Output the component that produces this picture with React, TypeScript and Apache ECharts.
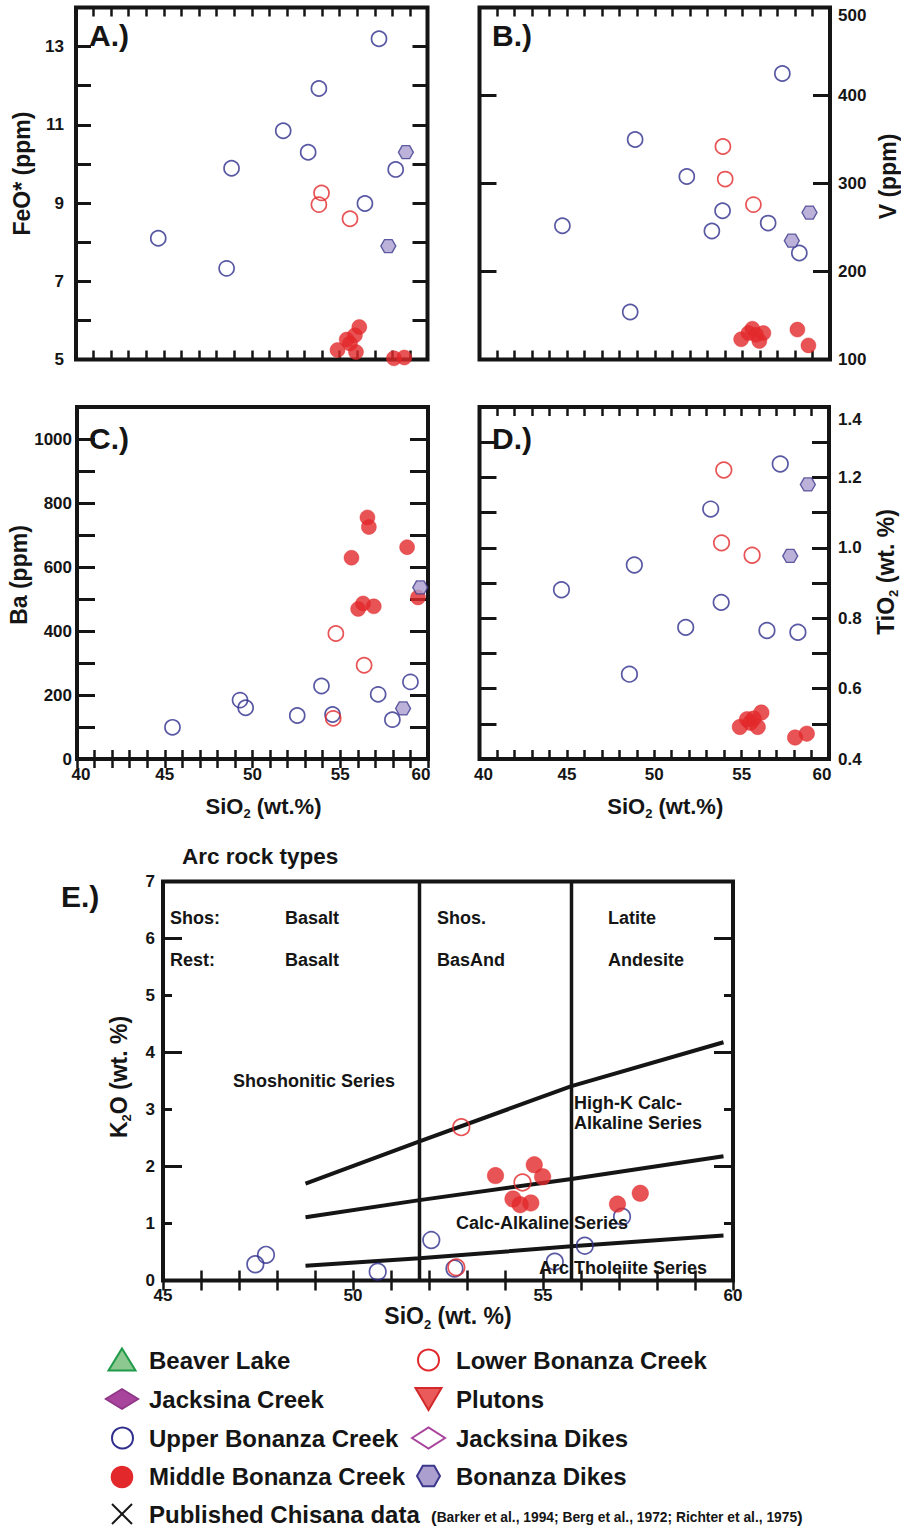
import React, { useEffect, useRef } from "react";
import * as echarts from "echarts";

// ---------------- data ----------------
// Panel A: FeO* vs SiO2
const feoUpper = [[44.68, 8.1], [48.57, 7.33], [48.85, 9.89], [51.79, 10.85], [53.21, 10.3], [53.82, 11.93], [56.44, 8.99], [57.24, 13.2], [58.19, 9.86]];
const feoLower = [[53.97, 9.26], [53.82, 8.96], [55.59, 8.6]];
const feoMiddle = [[54.88, 5.24], [55.4, 5.51], [55.59, 5.41], [55.87, 5.62], [56.12, 5.83], [55.93, 5.19], [58.09, 5.03], [58.68, 5.05]];
const feoDikes = [[58.77, 10.3], [57.77, 7.9]];

// Panel B: V vs SiO2
const vUpper = [[44.73, 252], [48.6, 154], [48.88, 350], [51.83, 308], [53.26, 246], [53.87, 269], [56.47, 255], [57.28, 425], [58.25, 221]];
const vLower = [[53.89, 342], [54.02, 305], [55.63, 276]];
const vMiddle = [[54.93, 123], [55.35, 130], [55.57, 135], [55.78, 128], [55.97, 121], [56.2, 130], [58.14, 134], [58.77, 116]];
const vDikes = [[57.82, 235], [58.83, 267]];

// Panel C: Ba vs SiO2
const baUpper = [[45.44, 99], [49.29, 184], [49.61, 160], [52.55, 136], [53.93, 228], [54.56, 139], [57.16, 202], [57.97, 123], [59.0, 241]];
const baLower = [[54.75, 392], [54.6, 127], [56.36, 293]];
const baMiddle = [[55.64, 629], [56.55, 755], [56.63, 725], [58.81, 662], [56.02, 469], [56.3, 486], [56.91, 477], [59.43, 505]];
const baDikes = [[58.58, 158], [59.56, 536]];

// Panel D: TiO2 vs SiO2
const tiUpper = [[44.69, 0.881], [48.58, 0.641], [48.86, 0.951], [51.8, 0.774], [53.23, 1.11], [53.83, 0.845], [56.45, 0.765], [57.21, 1.238], [58.22, 0.76]];
const tiLower = [[53.98, 1.221], [53.85, 1.014], [55.6, 0.979]];
const tiMiddle = [[54.9, 0.491], [55.31, 0.513], [55.5, 0.503], [55.69, 0.515], [55.92, 0.491], [56.13, 0.532], [58.06, 0.461], [58.73, 0.472]];
const tiDikes = [[57.78, 0.977], [58.79, 1.18]];

// Panel E: K2O vs SiO2
const kUpper = [[47.43, 0.285], [47.71, 0.45], [50.65, 0.155], [52.06, 0.71], [52.67, 0.21], [55.31, 0.33], [56.1, 0.61], [57.08, 1.12]];
const kLower = [[52.72, 0.23], [52.85, 2.69], [54.46, 1.72]];
const kMiddle = [[53.75, 1.84], [54.77, 2.03], [54.99, 1.82], [54.21, 1.43], [54.4, 1.33], [54.68, 1.36], [56.96, 1.34], [57.56, 1.53]];
const shoshoniteBoundary = [[48.75, 1.7], [51.75, 2.44], [55.75, 3.41], [59.75, 4.18]];
const highKBoundary = [[48.75, 1.11], [51.75, 1.41], [55.75, 1.78], [59.75, 2.18]];
const tholeiiteBoundary = [[48.75, 0.26], [51.75, 0.39], [55.75, 0.6], [59.75, 0.79]];
const rockTypeBoundaries = [51.75, 55.75];

// tick labels
const sio2Labels = [40, 45, 50, 55, 60];
const sio2LabelsE = [45, 50, 55, 60];
const feoLabels = [5, 7, 9, 11, 13];
const vLabels = [100, 200, 300, 400, 500];
const baLabels = [0, 200, 400, 600, 800, 1000];
const tiLabels = [0.4, 0.6, 0.8, 1.0, 1.2, 1.4];
const kLabels = [0, 1, 2, 3, 4, 5, 6, 7];

// texts
const panelLetters = ["A.)", "B.)", "C.)", "D.)", "E.)"];
const eTitle = "Arc rock types";
const eZoneTexts = ["Shos:", "Basalt", "Rest:", "Basalt", "Shos.", "BasAnd", "Latite", "Andesite"];
const eSeriesTexts = ["Shoshonitic Series", "High-K Calc-", "Alkaline Series", "Calc-Alkaline Series", "Arc Tholeiite Series"];
const legendLeft = ["Beaver Lake", "Jacksina Creek", "Upper Bonanza Creek", "Middle Bonanza Creek", "Published Chisana data"];
const legendRight = ["Lower Bonanza Creek", "Plutons", "Jacksina Dikes", "Bonanza Dikes"];
const citation = "Barker et al., 1994; Berg et al., 1972; Richter et al., 1975";

// ---------------- style ----------------
const FONT = "'Liberation Sans', Arial, Helvetica, sans-serif";
const INK = "#151515";
const NAVY = "#2f2e8c";
const RED = "#e2282b";
const HEX_FILL = "#ab9fcf";
const HEX_STROKE = "#3b388c";
const HEX_PATH = "path://M0,50 L25,2 L75,2 L100,50 L75,98 L25,98 Z";
const LABEL_SIZE = 17;

const tokenFont = (size: number, extra: any = {}) => ({ fontFamily: FONT, fontWeight: "bold", fontSize: size, color: INK, ...extra });

function labelFormatter(list: number[], digits = 0, special: Record<string, string> = {}) {
  return (v: number) => {
    const hit = list.find((t) => Math.abs(t - v) < 1e-6);
    if (hit === undefined) return "";
    const s = hit.toFixed(digits);
    return special[s] ? `{${special[s]}|${s}}` : s;
  };
}

const tickLine = (w: number) => ({ color: INK, width: w });
function axis(o: any) {
  return {
    type: "value",
    axisLine: { show: false },
    splitLine: { show: false },
    axisLabel: { show: false },
    ...o,
  };
}
const labelStyle = (margin: number, extra: any = {}) => ({
  show: true,
  margin,
  color: INK,
  fontFamily: FONT,
  fontWeight: "bold",
  fontSize: LABEL_SIZE,
  ...extra,
});

// names with a real subscript: main tokens top-aligned, subscript pushed down
const subName = (parts: string[]) => parts.map((p, i) => (i % 2 === 0 ? (p ? `{m|${p}}` : "") : `{s|${p}}`)).join("");
const nameStyle = (size: number, padLeft = 0) => ({
  color: INK,
  fontFamily: FONT,
  fontWeight: "bold",
  fontSize: size,
  padding: [0, 0, 0, padLeft],
  rich: {
    m: tokenFont(size, { lineHeight: size + 2, verticalAlign: "top" }),
    s: tokenFont(Math.round(size * 0.58), { lineHeight: 13, verticalAlign: "top", padding: [Math.round(size * 0.55), 0, 0, 0] }),
  },
});

function xPair(grid: number, min: number, max: number, tickLen: number, bottomExtra: any = {}) {
  const base = { gridIndex: grid, min, max, interval: 1 };
  const tick = { show: true, inside: true, length: tickLen, lineStyle: tickLine(2.5) };
  return [
    axis({ ...base, position: "bottom", axisTick: tick, ...bottomExtra }),
    axis({ ...base, position: "top", axisTick: tick }),
  ];
}

function scatterSet(xi: number, yi: number, upper: number[][], lower: number[][], middle: number[][], dikes: number[][] | null, size: number) {
  const common = { type: "scatter", xAxisIndex: xi, yAxisIndex: yi, clip: false, silent: true, z: 3 };
  const out: any[] = [
    { ...common, name: "Upper Bonanza Creek", data: upper, symbol: "circle", symbolSize: size, itemStyle: { color: "rgba(255,255,255,0)", borderColor: NAVY, borderWidth: 1.7 } },
    { ...common, name: "Lower Bonanza Creek", data: lower, symbol: "circle", symbolSize: size, itemStyle: { color: "rgba(255,255,255,0)", borderColor: RED, borderWidth: 1.7 } },
    { ...common, name: "Middle Bonanza Creek", data: middle, symbol: "circle", symbolSize: size, itemStyle: { color: RED, borderColor: RED, borderWidth: 0.5 } },
  ];
  if (dikes) {
    out.push({ ...common, name: "Bonanza Dikes", data: dikes, symbol: HEX_PATH, symbolSize: [15, 13], itemStyle: { color: HEX_FILL, borderColor: HEX_STROKE, borderWidth: 1.3 } });
  }
  return out;
}

function boundaryLine(data: number[][], width: number) {
  return {
    type: "line",
    xAxisIndex: 8,
    yAxisIndex: 8,
    data,
    symbol: "none",
    silent: true,
    clip: false,
    z: 2,
    lineStyle: { color: INK, width, cap: "butt" },
  };
}

function txt(text: string, x: number, y: number, size: number, align = "left", extra: any = {}) {
  return {
    type: "text",
    x,
    y,
    silent: true,
    z: 50,
    style: {
      text,
      fill: INK,
      font: `bold ${size}px ${FONT}`,
      align,
      verticalAlign: "middle",
      textAlign: align,
      textVerticalAlign: "middle",
      ...extra,
    },
  };
}

function buildOption() {
  const grids = [
    { left: 76, top: 7.5, width: 351.5, height: 352 },
    { left: 479.5, top: 7.5, width: 350.5, height: 352 },
    { left: 77, top: 407, width: 351, height: 352 },
    { left: 479.5, top: 407, width: 351, height: 352 },
    { left: 163, top: 881.5, width: 570, height: 399 },
  ].map((g) => ({ ...g, show: true, borderColor: INK, borderWidth: 4, backgroundColor: "transparent", containLabel: false }));

  const sioName = {
    name: subName(["SiO", "2", " (wt.%)"]),
    nameLocation: "middle",
    nameGap: 36,
    nameTextStyle: nameStyle(22, 22),
  };
  const xEndRich = {
    l: tokenFont(LABEL_SIZE, { padding: [0, 0, 0, 8] }),
    r: tokenFont(LABEL_SIZE, { padding: [0, 14, 0, 0] }),
  };
  const xLabelCD = labelStyle(7, { formatter: labelFormatter(sio2Labels, 0, { "40": "l", "60": "r" }), rich: xEndRich });

  const xAxis = [
    ...xPair(0, 40, 60, 9),
    ...xPair(1, 40, 60, 9),
    ...xPair(2, 40, 60, 9, { axisLabel: xLabelCD, ...sioName }),
    ...xPair(3, 40, 60, 9, { axisLabel: xLabelCD, ...sioName }),
    ...xPair(4, 45, 60, 10, {
      axisLabel: labelStyle(6, { formatter: labelFormatter(sio2LabelsE) }),
      name: subName(["SiO", "2", " (wt. %)"]),
      nameLocation: "middle",
      nameGap: 24,
      nameTextStyle: nameStyle(23, 0),
    }),
  ];

  const yTick = (len: number) => ({ show: true, inside: true, length: len, lineStyle: tickLine(3) });
  const yName = (name: string, gap: number, size: number, pad: number) => ({
    name,
    nameLocation: "middle",
    nameRotate: 90,
    nameGap: gap,
    nameTextStyle: nameStyle(size, pad),
  });
  const shiftRich = (pad: number) => ({ t: tokenFont(LABEL_SIZE, { padding: [pad, 0, 0, 0] }) });

  const yAxis = [
    // A
    axis({ gridIndex: 0, position: "left", min: 5, max: 14, interval: 1, axisTick: yTick(15), axisLabel: labelStyle(12, { formatter: labelFormatter(feoLabels) }), ...yName("FeO* (ppm)", 43, 23, 20) }),
    axis({ gridIndex: 0, position: "right", min: 5, max: 14, interval: 1, axisTick: yTick(15) }),
    // B
    axis({ gridIndex: 1, position: "left", min: 100, max: 500, interval: 100, axisTick: yTick(17) }),
    axis({ gridIndex: 1, position: "right", min: 100, max: 500, interval: 100, axisTick: yTick(17), axisLabel: labelStyle(8, { formatter: labelFormatter(vLabels, 0, { "500": "t" }), rich: shiftRich(15) }), ...yName("V (ppm)", 46, 23, 14) }),
    // C
    axis({ gridIndex: 2, position: "left", min: 0, max: 1100, interval: 100, axisTick: yTick(18), axisLabel: labelStyle(5, { formatter: labelFormatter(baLabels) }), ...yName("Ba (ppm)", 44, 23, 16) }),
    axis({ gridIndex: 2, position: "right", min: 0, max: 1100, interval: 100, axisTick: yTick(18) }),
    // D
    axis({ gridIndex: 3, position: "left", min: 0.4, max: 1.4, interval: 0.1, axisTick: yTick(17) }),
    axis({ gridIndex: 3, position: "right", min: 0.4, max: 1.4, interval: 0.1, axisTick: yTick(17), axisLabel: labelStyle(9, { formatter: labelFormatter(tiLabels, 1, { "1.4": "t" }), rich: shiftRich(24) }), ...yName(subName(["TiO", "2", " (wt. %)"]), 45, 23, 22) }),
    // E
    axis({ gridIndex: 4, position: "left", min: 0, max: 7, interval: 2, axisTick: yTick(19) }),
    axis({ gridIndex: 4, position: "left", min: 0, max: 7, interval: 1, axisTick: yTick(9), axisLabel: labelStyle(8, { formatter: labelFormatter(kLabels) }), ...yName(subName(["K", "2", "O (wt. %)"]), 31, 23, 8) }),
    axis({ gridIndex: 4, position: "right", min: 0, max: 7, interval: 2, axisTick: yTick(19) }),
    axis({ gridIndex: 4, position: "right", min: 0, max: 7, interval: 1, axisTick: yTick(9) }),
  ];

  const series: any[] = [
    ...scatterSet(0, 0, feoUpper, feoLower, feoMiddle, feoDikes, 15),
    ...scatterSet(2, 2, vUpper, vLower, vMiddle, vDikes, 15),
    ...scatterSet(4, 4, baUpper, baLower, baMiddle, baDikes, 15),
    ...scatterSet(6, 6, tiUpper, tiLower, tiMiddle, tiDikes, 15.5),
    ...rockTypeBoundaries.map((x) => boundaryLine([[x, 0], [x, 7]], 3.5)),
    boundaryLine(shoshoniteBoundary, 4),
    boundaryLine(highKBoundary, 4),
    boundaryLine(tholeiiteBoundary, 4),
    ...scatterSet(8, 8, kUpper, kLower, kMiddle, null, 16.5),
  ];

  // ----- graphic: panel letters, E annotations, legend -----
  const g: any[] = [];
  g.push(txt(panelLetters[0], 89, 35, 30));
  g.push(txt(panelLetters[1], 492, 35, 30));
  g.push(txt(panelLetters[2], 89, 438, 30));
  g.push(txt(panelLetters[3], 492, 438, 30));
  g.push(txt(panelLetters[4], 61, 896, 30));
  g.push(txt(eTitle, 182, 856, 22.5));

  const zonePos = [[170, 918], [285, 918], [170, 960], [285, 960], [437, 918], [437, 960], [608, 918], [608, 960]];
  eZoneTexts.forEach((t, i) => g.push(txt(t, zonePos[i][0], zonePos[i][1], 18)));
  const seriesPos = [[233, 1081], [574, 1103], [574, 1123], [456, 1223], [539, 1268]];
  eSeriesTexts.forEach((t, i) => g.push(txt(t, seriesPos[i][0], seriesPos[i][1], 18)));

  // legend
  const rows = [1360, 1399, 1438, 1476, 1514];
  const lxL = 122, lxR = 428.5;
  legendLeft.forEach((t, i) => g.push(txt(t, 149, rows[i], 24)));
  legendRight.forEach((t, i) => g.push(txt(t, 456, rows[i], 24)));
  g.push({
    type: "text",
    x: 431,
    y: rows[4] + 3,
    silent: true,
    style: {
      text: `{p|(}{c|${citation}}{p|)}`,
      fill: INK,
      align: "left",
      verticalAlign: "middle",
      textAlign: "left",
      textVerticalAlign: "middle",
      font: `bold 13px ${FONT}`,
      rich: {
        p: { font: `bold 17px ${FONT}`, fill: INK, verticalAlign: "middle" },
        c: { font: `bold 13.8px ${FONT}`, fill: INK, verticalAlign: "middle" },
      },
    },
  });

  // legend markers
  let y = rows[0];
  g.push({ type: "polygon", silent: true, shape: { points: [[lxL, y - 11.5], [lxL + 13.5, y + 10.5], [lxL - 13.5, y + 10.5]] }, style: { fill: "#8cc890", stroke: "#1f9a48", lineWidth: 2 } });
  y = rows[1];
  g.push({ type: "polygon", silent: true, shape: { points: [[lxL - 16.5, y], [lxL, y - 10], [lxL + 16.5, y], [lxL, y + 10]] }, style: { fill: "#a8449c", stroke: "#8e3585", lineWidth: 1.5 } });
  y = rows[2];
  g.push({ type: "circle", silent: true, shape: { cx: lxL + 0.5, cy: y, r: 10.5 }, style: { fill: "none", stroke: NAVY, lineWidth: 2 } });
  y = rows[3];
  g.push({ type: "circle", silent: true, shape: { cx: lxL, cy: y + 1, r: 11.3 }, style: { fill: RED } });
  y = rows[4];
  g.push({ type: "line", silent: true, shape: { x1: lxL - 10, y1: y - 10, x2: lxL + 10, y2: y + 10 }, style: { stroke: INK, lineWidth: 2 } });
  g.push({ type: "line", silent: true, shape: { x1: lxL + 10, y1: y - 10, x2: lxL - 10, y2: y + 10 }, style: { stroke: INK, lineWidth: 2 } });

  y = rows[0];
  g.push({ type: "circle", silent: true, shape: { cx: lxR, cy: y, r: 10.5 }, style: { fill: "none", stroke: RED, lineWidth: 2 } });
  y = rows[1];
  g.push({ type: "polygon", silent: true, shape: { points: [[lxR - 13, y - 11], [lxR + 13, y - 11], [lxR, y + 11]] }, style: { fill: "#ea5a5a", stroke: "#d22a2a", lineWidth: 2 } });
  y = rows[2];
  g.push({ type: "polygon", silent: true, shape: { points: [[lxR - 16.5, y], [lxR, y - 10.5], [lxR + 16.5, y], [lxR, y + 10.5]] }, style: { fill: "none", stroke: "#a8449c", lineWidth: 2 } });
  y = rows[3];
  g.push({ type: "polygon", silent: true, shape: { points: [[lxR - 11.5, y], [lxR - 5.7, y - 10.3], [lxR + 5.7, y - 10.3], [lxR + 11.5, y], [lxR + 5.7, y + 10.3], [lxR - 5.7, y + 10.3]] }, style: { fill: HEX_FILL, stroke: HEX_STROKE, lineWidth: 2 } });

  return {
    animation: false,
    backgroundColor: "#ffffff",
    textStyle: { fontFamily: FONT },
    grid: grids,
    xAxis,
    yAxis,
    series,
    graphic: { elements: g },
  };
}

export default function App() {
  const ref = useRef<HTMLDivElement>(null);
  useEffect(() => {
    if (!ref.current) return;
    const chart = echarts.init(ref.current, null, { renderer: "svg", width: 901, height: 1528 });
    chart.setOption(buildOption() as any);
    return () => chart.dispose();
  }, []);
  return (
    <div
      ref={ref}
      style={{ position: "absolute", left: 0, top: 0, width: 901, height: 1528, background: "#fff" }}
    />
  );
}
